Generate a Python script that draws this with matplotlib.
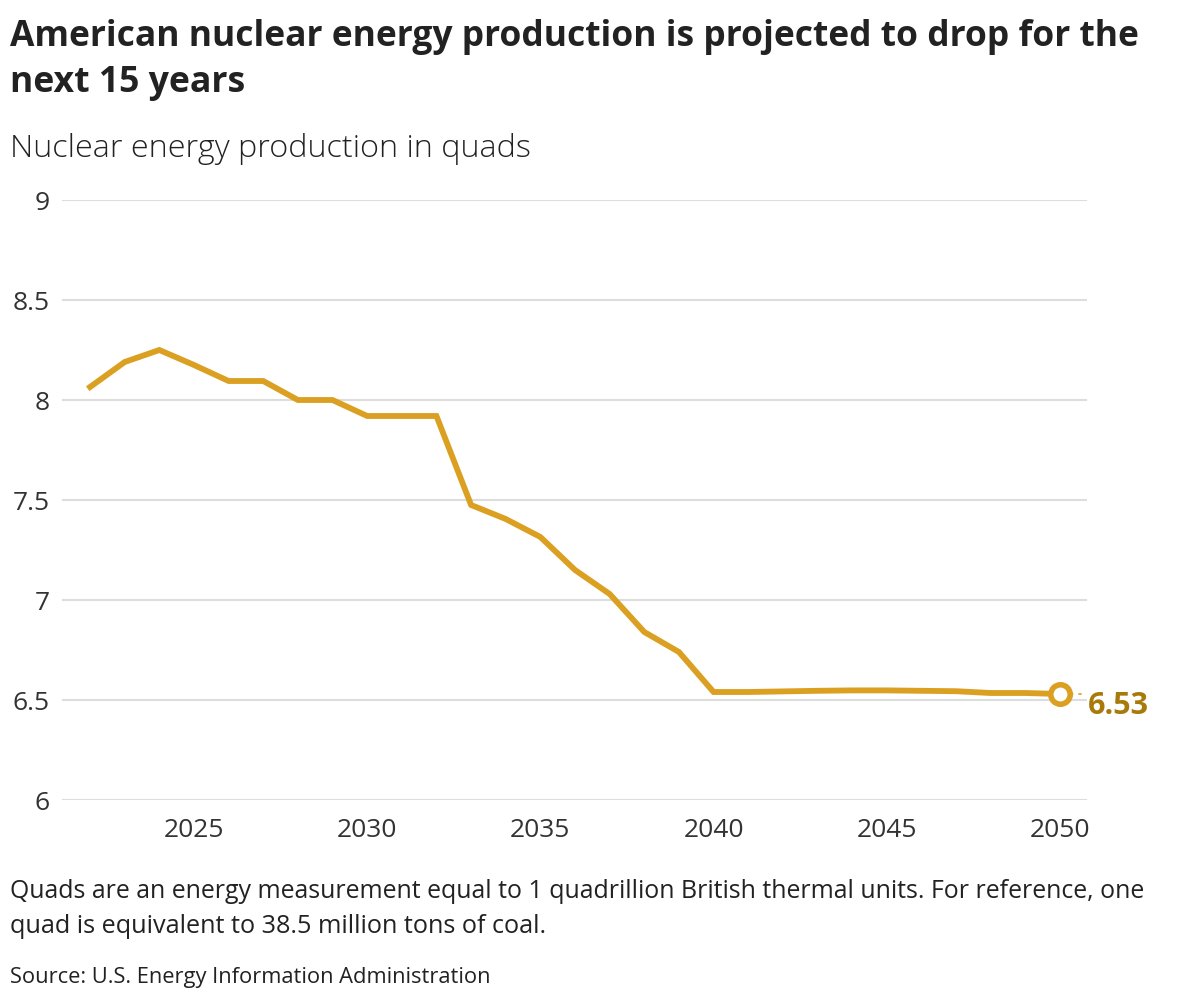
import matplotlib
matplotlib.use("Agg")
import matplotlib.pyplot as plt
import numpy as np

years = list(range(2022, 2051))
values = [8.065, 8.19, 8.25, 8.175, 8.095, 8.095, 8.0, 8.0, 7.92, 7.92, 7.92,
          7.475, 7.405, 7.315, 7.15, 7.03, 6.84, 6.74, 6.54, 6.54, 6.543, 6.546,
          6.548, 6.548, 6.546, 6.544, 6.535, 6.535, 6.53]
yticks = [6, 6.5, 7, 7.5, 8, 8.5, 9]
ytick_labels = ["6", "6.5", "7", "7.5", "8", "8.5", "9"]
xticks = [2025, 2030, 2035, 2040, 2045, 2050]
end_label = "6.53"

title_lines = ["American nuclear energy production is projected to drop for the", "next 15 years"]
subtitle = "Nuclear energy production in quads"
note_lines = ["Quads are an energy measurement equal to 1 quadrillion British thermal units. For reference, one",
              "quad is equivalent to 38.5 million tons of coal."]
source = "Source: U.S. Energy Information Administration"

W, H = 1180, 1002
fig = plt.figure(figsize=(W / 100, H / 100), dpi=100)
FAM = ['Open Sans', 'DejaVu Sans']
plt.rcParams['font.family'] = FAM

LINE = "#DBA022"
LABEL = "#A87A0A"
TEXT = "#222222"

renderer = fig.canvas.get_renderer()


def fit_text(x, y, s, width_px, size0=20, **kw):
    t = fig.text(x / W, 1 - y / H, s, fontsize=size0, va='baseline', ha='left', color=TEXT, **kw)
    w = t.get_window_extent(renderer).width
    t.set_fontsize(size0 * width_px / w)
    return t


ax = fig.add_axes([62 / W, 1 - 800 / H, (1087 - 62) / W, 600 / H])
ax.plot(years, values, color=LINE, lw=4.2, solid_joinstyle='miter', zorder=3, clip_on=False)
ax.set_xlim(2021.19, 2050.78)
ax.set_ylim(6, 9)
ax.set_yticks(yticks)
ax.set_yticklabels(ytick_labels)
ax.set_xticks(xticks)
ax.grid(axis='y', color='#dddddd', lw=1.5)
ax.set_axisbelow(True)
for s in ax.spines.values():
    s.set_visible(False)
ax.tick_params(axis='both', length=0, labelsize=19, colors='#333333')
ax.tick_params(axis='y', pad=9)
ax.tick_params(axis='x', pad=13)

# end marker
ax.plot([years[-1]], [values[-1]], marker='o', ms=14, mfc='white', mec=LINE, mew=4, zorder=5, clip_on=False)
ax.plot([years[-1] + 0.3, years[-1] + 0.75], [values[-1], values[-1]], color=LINE, lw=1.2,
        ls=(0, (2, 3)), zorder=4, clip_on=False)
ax.annotate(end_label, (years[-1], values[-1]), xytext=(20, -9), textcoords='offset points',
            color=LABEL, fontsize=22, fontweight='bold', va='center', ha='left')

fit_text(10, 46, title_lines[0], 1130, fontweight='bold')
fit_text(10, 92, title_lines[1], 236, fontweight='bold')
fit_text(10, 157, subtitle, 522, fontweight='light', )
fit_text(10, 898, note_lines[0], 1135)
fit_text(10, 933, note_lines[1], 538)
fit_text(10, 983, source, 479)

fig.savefig("out.png", dpi=100, facecolor='white')
